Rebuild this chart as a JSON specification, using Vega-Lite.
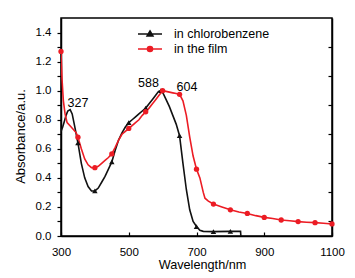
{
  "$schema": "https://vega.github.io/schema/vega-lite/v6.json",
  "width": 271,
  "height": 218,
  "autosize": {"type": "none"},
  "padding": {"left": 61, "top": 18, "right": 23, "bottom": 42},
  "background": "white",
  "config": {
    "font": "Liberation Sans",
    "view": {"stroke": "#000", "strokeWidth": 1.5},
    "axis": {"domainColor": "#000", "domainWidth": 1.5, "tickColor": "#000", "tickWidth": 1.2, "labelColor": "#000", "titleColor": "#000", "grid": false, "labelFont": "Liberation Sans", "titleFont": "Liberation Sans", "titleFontWeight": "normal"},
    "legend": {"title": null, "orient": "none", "legendX": 82, "legendY": 9, "padding": 0, "labelFontSize": 12.5, "labelFont": "Liberation Sans", "labelColor": "#000", "labelOffset": 17, "rowPadding": 1, "symbolSize": 144}
  },
  "datasets": {
    "spectra": [
      {"wl": 300, "abs": 0.72, "sample": "in chlorobenzene"},
      {"wl": 305, "abs": 0.75, "sample": "in chlorobenzene"},
      {"wl": 310, "abs": 0.79, "sample": "in chlorobenzene"},
      {"wl": 315, "abs": 0.83, "sample": "in chlorobenzene"},
      {"wl": 320, "abs": 0.86, "sample": "in chlorobenzene"},
      {"wl": 327, "abs": 0.87, "sample": "in chlorobenzene"},
      {"wl": 333, "abs": 0.84, "sample": "in chlorobenzene"},
      {"wl": 340, "abs": 0.76, "sample": "in chlorobenzene"},
      {"wl": 350, "abs": 0.64, "sample": "in chlorobenzene"},
      {"wl": 360, "abs": 0.5, "sample": "in chlorobenzene"},
      {"wl": 370, "abs": 0.4, "sample": "in chlorobenzene"},
      {"wl": 380, "abs": 0.34, "sample": "in chlorobenzene"},
      {"wl": 390, "abs": 0.31, "sample": "in chlorobenzene"},
      {"wl": 400, "abs": 0.31, "sample": "in chlorobenzene"},
      {"wl": 410, "abs": 0.33, "sample": "in chlorobenzene"},
      {"wl": 420, "abs": 0.37, "sample": "in chlorobenzene"},
      {"wl": 430, "abs": 0.41, "sample": "in chlorobenzene"},
      {"wl": 440, "abs": 0.46, "sample": "in chlorobenzene"},
      {"wl": 450, "abs": 0.51, "sample": "in chlorobenzene"},
      {"wl": 460, "abs": 0.59, "sample": "in chlorobenzene"},
      {"wl": 470, "abs": 0.66, "sample": "in chlorobenzene"},
      {"wl": 480, "abs": 0.71, "sample": "in chlorobenzene"},
      {"wl": 490, "abs": 0.75, "sample": "in chlorobenzene"},
      {"wl": 500, "abs": 0.78, "sample": "in chlorobenzene"},
      {"wl": 510, "abs": 0.8, "sample": "in chlorobenzene"},
      {"wl": 520, "abs": 0.82, "sample": "in chlorobenzene"},
      {"wl": 530, "abs": 0.84, "sample": "in chlorobenzene"},
      {"wl": 540, "abs": 0.86, "sample": "in chlorobenzene"},
      {"wl": 550, "abs": 0.88, "sample": "in chlorobenzene"},
      {"wl": 560, "abs": 0.91, "sample": "in chlorobenzene"},
      {"wl": 570, "abs": 0.94, "sample": "in chlorobenzene"},
      {"wl": 580, "abs": 0.97, "sample": "in chlorobenzene"},
      {"wl": 588, "abs": 0.995, "sample": "in chlorobenzene"},
      {"wl": 595, "abs": 1.0, "sample": "in chlorobenzene"},
      {"wl": 602, "abs": 0.98, "sample": "in chlorobenzene"},
      {"wl": 610, "abs": 0.94, "sample": "in chlorobenzene"},
      {"wl": 620, "abs": 0.89, "sample": "in chlorobenzene"},
      {"wl": 630, "abs": 0.83, "sample": "in chlorobenzene"},
      {"wl": 640, "abs": 0.77, "sample": "in chlorobenzene"},
      {"wl": 650, "abs": 0.69, "sample": "in chlorobenzene"},
      {"wl": 660, "abs": 0.5, "sample": "in chlorobenzene"},
      {"wl": 670, "abs": 0.32, "sample": "in chlorobenzene"},
      {"wl": 680, "abs": 0.18, "sample": "in chlorobenzene"},
      {"wl": 690, "abs": 0.1, "sample": "in chlorobenzene"},
      {"wl": 700, "abs": 0.065, "sample": "in chlorobenzene"},
      {"wl": 710, "abs": 0.04, "sample": "in chlorobenzene"},
      {"wl": 720, "abs": 0.032, "sample": "in chlorobenzene"},
      {"wl": 750, "abs": 0.03, "sample": "in chlorobenzene"},
      {"wl": 800, "abs": 0.032, "sample": "in chlorobenzene"},
      {"wl": 830, "abs": 0.032, "sample": "in chlorobenzene"},
      {"wl": 831, "abs": 0.0, "sample": "in chlorobenzene"},
      {"wl": 300, "abs": 1.27, "sample": "in the film"},
      {"wl": 303, "abs": 1.08, "sample": "in the film"},
      {"wl": 307, "abs": 0.93, "sample": "in the film"},
      {"wl": 312, "abs": 0.84, "sample": "in the film"},
      {"wl": 318, "abs": 0.78, "sample": "in the film"},
      {"wl": 330, "abs": 0.75, "sample": "in the film"},
      {"wl": 345, "abs": 0.71, "sample": "in the film"},
      {"wl": 350, "abs": 0.68, "sample": "in the film"},
      {"wl": 360, "abs": 0.6, "sample": "in the film"},
      {"wl": 370, "abs": 0.53, "sample": "in the film"},
      {"wl": 380, "abs": 0.49, "sample": "in the film"},
      {"wl": 390, "abs": 0.47, "sample": "in the film"},
      {"wl": 400, "abs": 0.47, "sample": "in the film"},
      {"wl": 410, "abs": 0.48, "sample": "in the film"},
      {"wl": 420, "abs": 0.5, "sample": "in the film"},
      {"wl": 430, "abs": 0.52, "sample": "in the film"},
      {"wl": 440, "abs": 0.54, "sample": "in the film"},
      {"wl": 450, "abs": 0.565, "sample": "in the film"},
      {"wl": 460, "abs": 0.61, "sample": "in the film"},
      {"wl": 470, "abs": 0.66, "sample": "in the film"},
      {"wl": 480, "abs": 0.7, "sample": "in the film"},
      {"wl": 490, "abs": 0.72, "sample": "in the film"},
      {"wl": 500, "abs": 0.74, "sample": "in the film"},
      {"wl": 510, "abs": 0.76, "sample": "in the film"},
      {"wl": 520, "abs": 0.78, "sample": "in the film"},
      {"wl": 530, "abs": 0.8, "sample": "in the film"},
      {"wl": 540, "abs": 0.83, "sample": "in the film"},
      {"wl": 550, "abs": 0.855, "sample": "in the film"},
      {"wl": 560, "abs": 0.88, "sample": "in the film"},
      {"wl": 570, "abs": 0.91, "sample": "in the film"},
      {"wl": 580, "abs": 0.94, "sample": "in the film"},
      {"wl": 590, "abs": 0.97, "sample": "in the film"},
      {"wl": 600, "abs": 1.0, "sample": "in the film"},
      {"wl": 610, "abs": 0.995, "sample": "in the film"},
      {"wl": 620, "abs": 0.99, "sample": "in the film"},
      {"wl": 630, "abs": 0.985, "sample": "in the film"},
      {"wl": 640, "abs": 0.98, "sample": "in the film"},
      {"wl": 650, "abs": 0.975, "sample": "in the film"},
      {"wl": 660, "abs": 0.93, "sample": "in the film"},
      {"wl": 670, "abs": 0.83, "sample": "in the film"},
      {"wl": 680, "abs": 0.68, "sample": "in the film"},
      {"wl": 690, "abs": 0.55, "sample": "in the film"},
      {"wl": 700, "abs": 0.46, "sample": "in the film"},
      {"wl": 710, "abs": 0.4, "sample": "in the film"},
      {"wl": 720, "abs": 0.3, "sample": "in the film"},
      {"wl": 725, "abs": 0.26, "sample": "in the film"},
      {"wl": 735, "abs": 0.24, "sample": "in the film"},
      {"wl": 750, "abs": 0.22, "sample": "in the film"},
      {"wl": 775, "abs": 0.2, "sample": "in the film"},
      {"wl": 800, "abs": 0.18, "sample": "in the film"},
      {"wl": 825, "abs": 0.165, "sample": "in the film"},
      {"wl": 850, "abs": 0.155, "sample": "in the film"},
      {"wl": 875, "abs": 0.14, "sample": "in the film"},
      {"wl": 900, "abs": 0.128, "sample": "in the film"},
      {"wl": 925, "abs": 0.12, "sample": "in the film"},
      {"wl": 950, "abs": 0.11, "sample": "in the film"},
      {"wl": 975, "abs": 0.105, "sample": "in the film"},
      {"wl": 1000, "abs": 0.099, "sample": "in the film"},
      {"wl": 1025, "abs": 0.095, "sample": "in the film"},
      {"wl": 1050, "abs": 0.092, "sample": "in the film"},
      {"wl": 1075, "abs": 0.088, "sample": "in the film"},
      {"wl": 1100, "abs": 0.083, "sample": "in the film"}
    ],
    "markers": [
      {"wl": 350, "abs": 0.64, "sample": "in chlorobenzene"},
      {"wl": 400, "abs": 0.31, "sample": "in chlorobenzene"},
      {"wl": 450, "abs": 0.51, "sample": "in chlorobenzene"},
      {"wl": 500, "abs": 0.78, "sample": "in chlorobenzene"},
      {"wl": 550, "abs": 0.88, "sample": "in chlorobenzene"},
      {"wl": 595, "abs": 1.0, "sample": "in chlorobenzene"},
      {"wl": 650, "abs": 0.69, "sample": "in chlorobenzene"},
      {"wl": 700, "abs": 0.065, "sample": "in chlorobenzene"},
      {"wl": 750, "abs": 0.03, "sample": "in chlorobenzene"},
      {"wl": 800, "abs": 0.032, "sample": "in chlorobenzene"},
      {"wl": 300, "abs": 1.27, "sample": "in the film"},
      {"wl": 350, "abs": 0.68, "sample": "in the film"},
      {"wl": 400, "abs": 0.47, "sample": "in the film"},
      {"wl": 450, "abs": 0.565, "sample": "in the film"},
      {"wl": 500, "abs": 0.74, "sample": "in the film"},
      {"wl": 550, "abs": 0.855, "sample": "in the film"},
      {"wl": 600, "abs": 1.0, "sample": "in the film"},
      {"wl": 650, "abs": 0.975, "sample": "in the film"},
      {"wl": 700, "abs": 0.46, "sample": "in the film"},
      {"wl": 750, "abs": 0.22, "sample": "in the film"},
      {"wl": 800, "abs": 0.18, "sample": "in the film"},
      {"wl": 850, "abs": 0.155, "sample": "in the film"},
      {"wl": 900, "abs": 0.128, "sample": "in the film"},
      {"wl": 950, "abs": 0.11, "sample": "in the film"},
      {"wl": 1000, "abs": 0.099, "sample": "in the film"},
      {"wl": 1050, "abs": 0.092, "sample": "in the film"},
      {"wl": 1100, "abs": 0.083, "sample": "in the film"}
    ],
    "peaks": [
      {"wl": 350, "abs": 0.888, "text": "327"},
      {"wl": 558, "abs": 1.025, "text": "588"},
      {"wl": 672, "abs": 0.998, "text": "604"}
    ]
  },
  "resolve": {"axis": {"y": "independent"}},
  "layer": [
    {
      "data": {"name": "spectra"},
      "mark": {"type": "line", "strokeWidth": 1.6, "clip": true},
      "encoding": {
        "x": {"field": "wl", "type": "quantitative", "scale": {"domain": [300, 1100], "nice": false, "zero": false},
          "axis": {"title": "Wavelength/nm", "orient": "bottom", "values": [300,350,400,450,500,550,600,650,700,750,800,850,900,950,1000,1050,1100],
            "labelExpr": "datum.value % 100 == 0 ? format(datum.value, 'd') : ''", "tickSize": -4, "labelPadding": 14, "labelFontSize": 11.5, "labelFlush": false, "labelOverlap": false,
            "titleFontSize": 12.7, "titleX": 141, "titleY": 32, "titleBaseline": "alphabetic", "titleAlign": "center"}},
        "y": {"field": "abs", "type": "quantitative", "scale": {"domain": [0, 1.5], "nice": false},
          "axis": {"title": "Absorbance/a.u.", "orient": "left", "values": [0,0.1,0.2,0.3,0.4,0.5,0.6,0.7,0.8,0.9,1.0,1.1,1.2,1.3,1.4],
            "labelExpr": "round(datum.value*10) % 2 == 0 ? format(datum.value, '.1f') : ''", "tickSize": 4, "labelPadding": 6, "labelFontSize": 11.5, "labelFlush": false, "labelOverlap": false,
            "titleFontSize": 13, "titleX": -37, "titleY": 118, "titleBaseline": "alphabetic", "titleAlign": "center", "titleAngle": -90}},
        "color": {"field": "sample", "type": "nominal", "scale": {"domain": ["in chlorobenzene", "in the film"], "range": ["#111111", "#ec1c24"]},
          "legend": {
            "encode": {"symbols": {"update": {
              "shape": {"signal": "datum.value === 'in the film' ? 'M-2,0H2M-0.42,0A0.42,0.42 0 1,0 0.42,0A0.42,0.42 0 1,0 -0.42,0Z' : 'M-2,0H2M0,-0.5L0.48,0.32H-0.48Z'"},
              "fill": {"signal": "datum.value === 'in the film' ? '#ec1c24' : '#111111'"},
              "stroke": {"signal": "datum.value === 'in the film' ? '#ec1c24' : '#111111'"},
              "strokeWidth": {"value": 1.6},
              "opacity": {"value": 1}
            }}}}}
      }
    },
    {
      "data": {"name": "markers"},
      "transform": [{"filter": "datum.sample === 'in chlorobenzene'"}],
      "mark": {"type": "point", "shape": "triangle-up", "filled": true, "opacity": 1, "size": 30},
      "encoding": {
        "x": {"field": "wl", "type": "quantitative"},
        "y": {"field": "abs", "type": "quantitative", "axis": null},
        "color": {"field": "sample", "type": "nominal"}
      }
    },
    {
      "data": {"name": "markers"},
      "transform": [{"filter": "datum.sample === 'in the film'"}],
      "mark": {"type": "point", "shape": "circle", "filled": true, "opacity": 1, "size": 28},
      "encoding": {
        "x": {"field": "wl", "type": "quantitative"},
        "y": {"field": "abs", "type": "quantitative", "axis": null},
        "color": {"field": "sample", "type": "nominal"}
      }
    },
    {
      "data": {"name": "peaks"},
      "mark": {"type": "text", "fontSize": 12.5, "font": "Liberation Sans", "align": "center", "baseline": "alphabetic", "color": "#000"},
      "encoding": {
        "x": {"field": "wl", "type": "quantitative"},
        "y": {"field": "abs", "type": "quantitative",
          "axis": {"orient": "right", "title": null, "labels": false, "values": [0.1,0.3,0.5,0.7,0.9,1.1,1.3], "tickSize": -4, "domain": true}},
        "text": {"field": "text"}
      }
    }
  ]
}
